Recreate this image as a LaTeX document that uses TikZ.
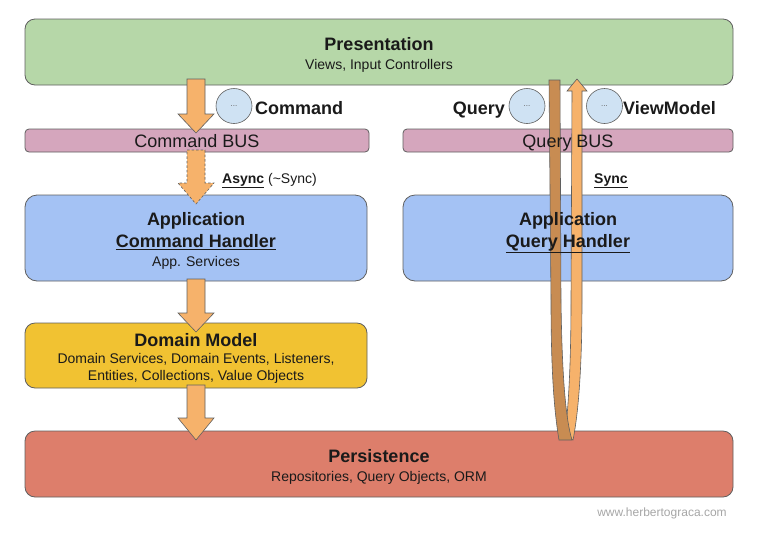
\documentclass[tikz,border=0pt]{standalone}
\usepackage{fontspec}
\setmainfont{Liberation Sans}
\definecolor{cgreen}{HTML}{B6D7A8}
\definecolor{cpink}{HTML}{D5A6BD}
\definecolor{cblue}{HTML}{A4C2F4}
\definecolor{cyellow}{HTML}{F1C232}
\definecolor{cred}{HTML}{DD7E6B}
\definecolor{ccircle}{HTML}{CFE2F3}
\definecolor{corange}{HTML}{F6B26B}
\definecolor{cbrown}{RGB}{200,140,82}
\definecolor{cline}{HTML}{5F5F5F}
\definecolor{ctext}{HTML}{1A1A1A}
\newcommand\blockdown[5]{%
  \draw[#1] (#2-9,#3) -- (#2+9,#3) -- (#2+9,#4) -- (#2+18,#4) -- (#2,#5)
    -- (#2-18,#4) -- (#2-9,#4) -- cycle;}
\tikzset{
  box/.style={draw=cline, line width=0.8pt, inner sep=0pt},
  title/.style={anchor=base, text=ctext, font=\fontsize{18}{20}\selectfont\bfseries, inner sep=0pt},
  sub/.style={anchor=base, text=ctext, font=\fontsize{14}{16}\selectfont, inner sep=0pt},
  bus/.style={anchor=base, text=ctext, font=\fontsize{18}{20}\selectfont, inner sep=0pt},
  msg/.style={draw=cline, line width=0.6pt, fill=ccircle, ellipse, inner sep=0pt,
    minimum width=36pt, minimum height=35pt, font=\fontsize{8}{9}\selectfont, text=cline},
  barrow/.style={draw=cline, line width=0.6pt, fill=corange, line join=miter},
}
\usetikzlibrary{shapes.geometric}
\begin{document}
\begin{tikzpicture}[x=1pt,y=-1pt]
\useasboundingbox (0,0) rectangle (780,542);
% boxes
\node[box, fill=cgreen, rounded corners=10pt, minimum width=708pt, minimum height=66pt] (pres) at (379,52) {};
\node[box, fill=cpink, rounded corners=4pt, minimum width=344pt, minimum height=23pt] (cbus) at (197,140.5) {};
\node[box, fill=cpink, rounded corners=4pt, minimum width=330pt, minimum height=23pt] (qbus) at (568,140.5) {};
\node[box, fill=cblue, rounded corners=12pt, minimum width=342pt, minimum height=86pt] (capp) at (196,238) {};
\node[box, fill=cblue, rounded corners=12pt, minimum width=330pt, minimum height=86pt] (qapp) at (568,238) {};
\node[box, fill=cyellow, rounded corners=10pt, minimum width=342pt, minimum height=65pt] (dom) at (196,355.5) {};
\node[box, fill=cred, rounded corners=10pt, minimum width=708pt, minimum height=66pt] (pers) at (379,464) {};
% arrows on command side
\blockdown{barrow}{196}{79}{114}{133}
\blockdown{barrow, dashed, dash pattern=on 2.5pt off 2pt}{196}{150}{183}{204}
\blockdown{barrow}{196}{279}{313}{332}
\blockdown{barrow}{196}{385}{418}{440}
% query ribbon
\draw[barrow] (572,91) -- (567,91) -- (577,79) -- (587,91) -- (582,91)
  -- (582,300) .. controls (582,380) and (577,420) .. (573,440)
  -- (565,436) .. controls (568,410) and (571,370) .. (571,300) -- cycle;
\draw[draw=cline, line width=0.6pt, fill=cbrown, line join=miter] (549,80) -- (560,80)
  -- (561,300) .. controls (562,380) and (566,420) .. (572,440)
  -- (559,440) .. controls (554,410) and (551,370) .. (551,300) -- cycle;
% texts
\node[title] (t1) at (379,50.5) {Presentation};
\node[sub] (t2) at (379,69) {Views, Input Controllers};
\node[bus] (t3) at (197,147.5) {Command BUS};
\node[bus] (t4) at (568,147.5) {Query BUS};
\node[title] (t5) at (196,225.5) {Application};
\node[title] (t6) at (196,247.5) {\underline{Command Handler}};
\node[sub] (t7) at (196,266) {App. Services};
\node[title] (t8) at (568,225.5) {Application};
\node[title] (t9) at (568,247.5) {\underline{Query Handler}};
\node[title] (t10) at (196,346.5) {Domain Model};
\node[sub] (t11) at (196,363.5) {Domain Services, Domain Events, Listeners,};
\node[sub] (t12) at (196,380.5) {Entities, Collections, Value Objects};
\node[title] (t13) at (379,462.5) {Persistence};
\node[sub] (t14) at (379,481) {Repositories, Query Objects, ORM};
\node[anchor=base west, inner sep=0pt, text=ctext, font=\fontsize{14}{16}\selectfont] (async) at (222,183) {\textbf{\underline{Async}} (\textasciitilde Sync)};
\node[anchor=base west, inner sep=0pt, text=ctext, font=\fontsize{14}{16}\selectfont\bfseries] (sync) at (594,183) {\underline{Sync}};
\node[anchor=base, inner sep=0pt, text=gray!70, font=\fontsize{12}{14}\selectfont] (www) at (662,516) {www.herbertograca.com};
% messages
\node[msg] (cmsg) at (234,106) {...};
\node[msg] (qmsg) at (527,106) {...};
\node[msg] (vmsg) at (604.5,106) {...};
\node[anchor=base west, inner sep=0pt, text=ctext, font=\fontsize{18}{20}\selectfont\bfseries] (lcmd) at (255,114.5) {Command};
\node[anchor=base east, inner sep=0pt, text=ctext, font=\fontsize{18}{20}\selectfont\bfseries] (lq) at (505,114.5) {Query};
\node[anchor=base west, inner sep=0pt, text=ctext, font=\fontsize{18}{20}\selectfont\bfseries] (lvm) at (623,114.5) {ViewModel};
\end{tikzpicture}
\end{document}
